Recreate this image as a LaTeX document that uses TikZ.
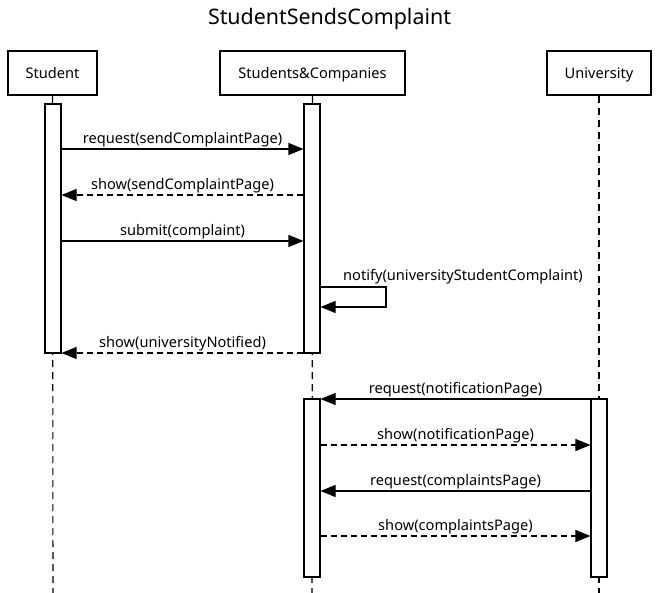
\documentclass[tikz,border=0pt]{standalone}
\usepackage{fontspec}
\setmainfont{Noto Sans}
\usetikzlibrary{arrows.meta}
\begin{document}
\begin{tikzpicture}[x=1pt,y=-1pt,
  actor/.style={draw,line width=2.2pt,fill=white,inner sep=0pt,minimum height=44pt,text height=12pt,text depth=0pt,font=\fontsize{14.6}{17}\selectfont},
  act/.style={draw,line width=1.1pt,fill=white,inner sep=0pt,minimum width=16pt},
  life/.style={line width=1.1pt,dash pattern=on 7pt off 5pt},
  msg/.style={line width=1.1pt,-{Triangle[length=15pt,width=12pt]}},
  ret/.style={msg,dash pattern=on 6pt off 4pt},
  lbl/.style={font=\fontsize{14.6}{17}\selectfont,inner sep=0pt,anchor=base}]
\useasboundingbox (0,0) rectangle (659,593);
\node[font=\fontsize{21.4}{25}\selectfont] (title) at (329.5,19) {StudentSendsComplaint};
% lifelines
\coordinate (sb) at (53,593);
\coordinate (cb) at (312,593);
\coordinate (ub) at (599,593);
\node[actor,minimum width=89pt] (stu) at (52.5,73) {Student};
\node[actor,minimum width=185pt] (sc) at (312.5,73) {Students\&Companies};
\node[actor,minimum width=104pt] (uni) at (599,73) {University};
\draw[life] (stu.south) -- (sb);
\draw[life] (sc.south) -- (cb);
\draw[life] (uni.south) -- (ub);
% activations
\node[act,minimum height=249pt] (sa) at (53,228.5) {};
\node[act,minimum height=249pt] (ca1) at (312,228.5) {};
\node[act,minimum height=178pt] (ca2) at (312,488) {};
\node[act,minimum height=178pt] (ua) at (599,488) {};
% messages
\draw[msg] (sa.east |- 0,149) -- (ca1.west |- 0,149);
\node[lbl] (m1) at (182.5,143.5) {request(sendComplaintPage)};
\draw[ret] (ca1.west |- 0,195) -- (sa.east |- 0,195);
\node[lbl] (m2) at (182.5,189.5) {show(sendComplaintPage)};
\draw[msg] (sa.east |- 0,241) -- (ca1.west |- 0,241);
\node[lbl] (m3) at (182.5,235.5) {submit(complaint)};
\coordinate (n1) at (386,287);
\coordinate (n2) at (386,307);
\draw[msg] (ca1.east |- 0,287) -- (n1) -- (n2) -- (ca1.east |- 0,307);
\node[lbl] (m4) at (463,280.5) {notify(universityStudentComplaint)};
\draw[ret] (ca1.west |- 0,353) -- (sa.east |- 0,353);
\node[lbl] (m5) at (182.5,347.5) {show(universityNotified)};
\draw[msg] (ua.west |- 0,399) -- (ca2.east |- 0,399);
\node[lbl] (m6) at (455.5,393.5) {request(notificationPage)};
\draw[ret] (ca2.east |- 0,445) -- (ua.west |- 0,445);
\node[lbl] (m7) at (455.5,439.5) {show(notificationPage)};
\draw[msg] (ua.west |- 0,491) -- (ca2.east |- 0,491);
\node[lbl] (m8) at (455.5,485.5) {request(complaintsPage)};
\draw[ret] (ca2.east |- 0,536) -- (ua.west |- 0,536);
\node[lbl] (m9) at (455.5,530.5) {show(complaintsPage)};
\end{tikzpicture}
\end{document}
